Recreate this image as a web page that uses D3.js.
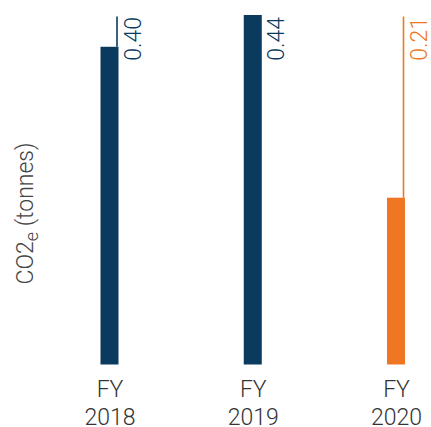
<!DOCTYPE html>
<html>
<head>
<meta charset="utf-8">
<script src="https://cdn.jsdelivr.net/npm/d3@7"></script>
<style>
  html, body { margin: 0; padding: 0; background: #fff; }
  svg { display: block; font-family: Roboto, "Liberation Sans", Arial, sans-serif; font-weight: 300; }
</style>
</head>
<body>
<svg id="chart" width="431" height="427"></svg>
<script>
// Emissions per financial year
const years = ["2018", "2019", "2020"];
const values = [0.40, 0.44, 0.21];
const valueLabels = ["0.40", "0.44", "0.21"];
const barColors = ["#0a3a5e", "#0a3a5e", "#ef7724"];

const baseY = 364.5, topY = 15;
const barW = 18;
const fontSize = 23;

const svg = d3.select("#chart");

const x = d3.scalePoint()
  .domain(years)
  .range([109.5, 396]);

const y = d3.scaleLinear()
  .domain([0, d3.max(values)])
  .range([baseY, topY]);

const rows = years.map((yr, i) => ({ yr, v: values[i], label: valueLabels[i], color: barColors[i] }));

// bars
svg.append("g").selectAll("rect")
  .data(rows)
  .join("rect")
  .attr("x", d => x(d.yr) - barW / 2)
  .attr("y", d => y(d.v))
  .attr("width", barW)
  .attr("height", d => y(0) - y(d.v))
  .attr("fill", d => d.color);

// leader lines from the top of the plot down to each bar
svg.append("g").selectAll("line")
  .data(rows)
  .join("line")
  .attr("x1", d => x(d.yr) + barW / 2 - 1.5)
  .attr("x2", d => x(d.yr) + barW / 2 - 1.5)
  .attr("y1", 16.5)
  .attr("y2", d => y(d.v))
  .attr("stroke", d => d.color)
  .attr("stroke-width", 1.6);

// value labels, rotated
svg.append("g").selectAll("text")
  .data(rows)
  .join("text")
  .attr("transform", d => `translate(${x(d.yr) + barW / 2 + 22},17) rotate(-90)`)
  .attr("text-anchor", "end")
  .attr("font-size", fontSize)
  .attr("fill", d => d.color)
  .text(d => d.label);

// category axis with two-line labels
const axis = svg.append("g")
  .attr("transform", `translate(0,${baseY})`)
  .call(d3.axisBottom(x).tickSize(0));
axis.attr("font-family", null).attr("font-size", null);
axis.select(".domain").remove();
axis.selectAll(".tick text")
  .attr("font-size", fontSize)
  .attr("fill", "#333")
  .attr("dy", null)
  .attr("y", 32)
  .each(function (d) {
    const t = d3.select(this).text(null);
    t.append("tspan").attr("x", 0).text("FY");
    t.append("tspan").attr("x", 0).attr("dy", 28.5).text(d);
  });

// y-axis title
const yt = svg.append("text")
  .attr("transform", "translate(33,213.5) rotate(-90)")
  .attr("text-anchor", "middle")
  .attr("font-size", fontSize)
  .attr("fill", "#444");
yt.append("tspan").text("CO2");
yt.append("tspan").attr("font-size", 18).attr("dy", 5).text("e");
yt.append("tspan").attr("dy", -5).text(" (tonnes)");
</script>
</body>
</html>
